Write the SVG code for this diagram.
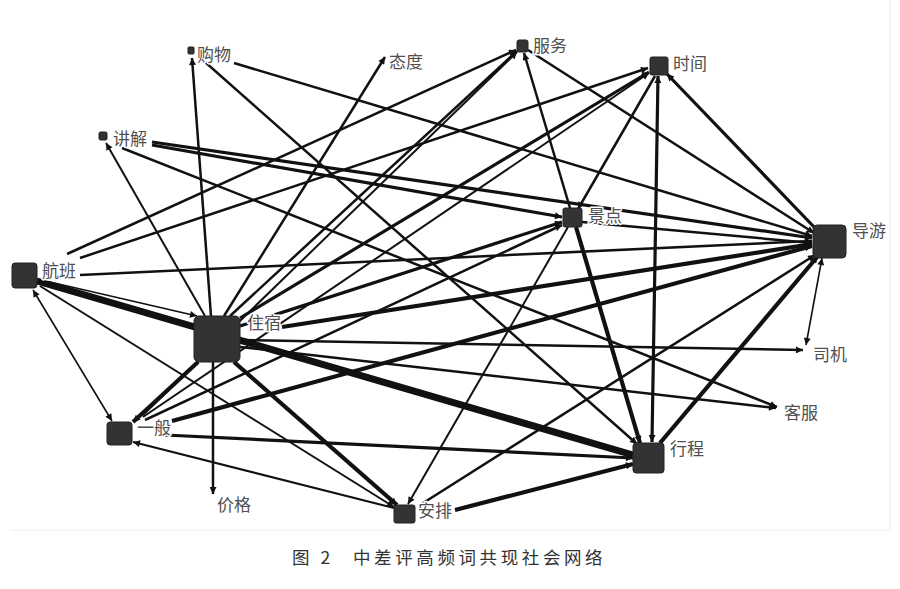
<svg xmlns="http://www.w3.org/2000/svg" width="900" height="589" viewBox="0 0 900 589">
<defs>
<marker id="arr" viewBox="0 0 10 10" refX="10" refY="5" markerWidth="9" markerHeight="7" markerUnits="userSpaceOnUse" orient="auto-start-reverse"><path d="M0,0 L10,5 L0,10 z" fill="#111"/></marker>
<style>
.e{stroke:#111;fill:none;marker-end:url(#arr)}
.b{marker-start:url(#arr)}
.w1{stroke-width:1.6}
.w15{stroke-width:2}
.w2{stroke-width:2.5}
.w3{stroke-width:3.2}
.w4{stroke-width:4.2}
.w6{stroke-width:7}
.n{fill:#333;stroke:#222;stroke-width:1}
.t{font-family:"Noto Sans CJK SC","Noto Sans",sans-serif;font-size:17px;fill:#505050;stroke:#fff;stroke-width:3;paint-order:stroke;stroke-linejoin:round}
.cap{font-family:"Noto Sans CJK SC","Noto Sans",sans-serif;font-size:17.5px;fill:#333;letter-spacing:3.6px}
</style>
</defs>
<rect x="0" y="0" width="900" height="589" fill="#fff"/>
<path d="M890,0 V530 H10" stroke="#eee" stroke-width="1" fill="none"/>
<g id="edges">
<line class="e w2" x1="211" y1="316" x2="192" y2="58"/>
<line class="e w2" x1="205" y1="62" x2="637" y2="444"/>
<line class="e w2" x1="234" y1="63" x2="812" y2="236"/>
<line class="e w2" x1="224" y1="316" x2="385" y2="57"/>
<line class="e w15" x1="205" y1="316" x2="106" y2="143"/>
<line class="e w3" x1="152" y1="145" x2="562" y2="217"/>
<line class="e w3" x1="152" y1="142" x2="812" y2="238"/>
<line class="e w2" x1="122" y1="148" x2="777" y2="407"/>
<line class="e w2" x1="67" y1="254" x2="516" y2="50"/>
<line class="e w2" x1="80" y1="258" x2="648" y2="68"/>
<line class="e w2" x1="80" y1="275" x2="812" y2="241"/>
<line class="e w6" x1="37" y1="281" x2="633" y2="455"/>
<line class="e w1" x1="37" y1="279" x2="197" y2="316"/>
<line class="e w15" x1="40" y1="286" x2="394" y2="507"/>
<line class="e b w1" x1="33" y1="290" x2="112" y2="421"/>
<line class="e w4" x1="198" y1="362" x2="133" y2="422"/>
<line class="e w2" x1="213" y1="362" x2="213" y2="494"/>
<line class="e w4" x1="234" y1="362" x2="397" y2="505"/>
<line class="e w2" x1="240" y1="340" x2="803" y2="350"/>
<line class="e w2" x1="240" y1="347" x2="776" y2="408"/>
<line class="e w4" x1="282" y1="327" x2="812" y2="244"/>
<line class="e w3" x1="240" y1="326" x2="562" y2="222"/>
<line class="e w3" x1="240" y1="318" x2="649" y2="72"/>
<line class="e w2" x1="230" y1="316" x2="517" y2="51"/>
<line class="e w15" x1="143" y1="417" x2="649" y2="73"/>
<line class="e w2" x1="145" y1="420" x2="562" y2="225"/>
<line class="e w4" x1="172" y1="421" x2="812" y2="246"/>
<line class="e w3" x1="165" y1="435" x2="633" y2="458"/>
<line class="e w15" x1="394" y1="508" x2="133" y2="442"/>
<line class="e w4" x1="455" y1="510" x2="633" y2="464"/>
<line class="e w15" x1="568" y1="227" x2="408" y2="504"/>
<line class="e w2" x1="420" y1="505" x2="815" y2="255"/>
<line class="e w2" x1="570" y1="208" x2="524" y2="53"/>
<line class="e w2" x1="655" y1="76" x2="578" y2="209"/>
<line class="e w4" x1="576" y1="227" x2="640" y2="443"/>
<line class="e w2" x1="582" y1="222" x2="812" y2="243"/>
<line class="e b w3" x1="658" y1="76" x2="652" y2="442"/>
<line class="e w3" x1="815" y1="228" x2="667" y2="74"/>
<line class="e w2" x1="528" y1="50" x2="814" y2="233"/>
<line class="e b w1" x1="822" y1="258" x2="806" y2="345"/>
<line class="e w4" x1="660" y1="443" x2="818" y2="256"/>
<line class="e w15" x1="143" y1="415" x2="517" y2="52"/>
</g>
<g id="node-gouwu"><rect class="n" x="188" y="47" width="6" height="7" rx="1"/><text class="t" x="197" y="61">购物</text></g>
<g id="node-taidu"><text class="t" x="389" y="68">态度</text></g>
<g id="node-fuwu"><rect class="n" x="517" y="40" width="11" height="12" rx="2"/><text class="t" x="533" y="52">服务</text></g>
<g id="node-shijian"><rect class="n" x="650" y="57" width="18" height="18" rx="2"/><text class="t" x="673" y="70">时间</text></g>
<g id="node-jiangjie"><rect class="n" x="99" y="132" width="8" height="8" rx="1.5"/><text class="t" x="113" y="145">讲解</text></g>
<g id="node-jingdian"><rect class="n" x="563" y="208" width="19" height="19" rx="2"/><text class="t" x="588" y="222">景点</text></g>
<g id="node-daoyou"><rect class="n" x="813" y="225" width="33" height="33" rx="4"/><text class="t" x="852" y="237">导游</text></g>
<g id="node-hangban"><rect class="n" x="12" y="263" width="25" height="25" rx="3"/><text class="t" x="42" y="277">航班</text></g>
<g id="node-zhusu"><rect class="n" x="194" y="316" width="46" height="46" rx="5"/><text class="t" x="247" y="329">住宿</text></g>
<g id="node-siji"><text class="t" x="813" y="361">司机</text></g>
<g id="node-kefu"><text class="t" x="784" y="419">客服</text></g>
<g id="node-yiban"><rect class="n" x="107" y="422" width="25" height="23" rx="3"/><text class="t" x="137" y="434">一般</text></g>
<g id="node-xingcheng"><rect class="n" x="633" y="443" width="31" height="30" rx="3"/><text class="t" x="670" y="455">行程</text></g>
<g id="node-jiage"><text class="t" x="217" y="511">价格</text></g>
<g id="node-anpai"><rect class="n" x="394" y="505" width="21" height="18" rx="2"/><text class="t" x="418" y="517">安排</text></g>
<text class="cap" x="292" y="564">图 2<tspan x="353">中差评高频词共现社会网络</tspan></text>
</svg>
